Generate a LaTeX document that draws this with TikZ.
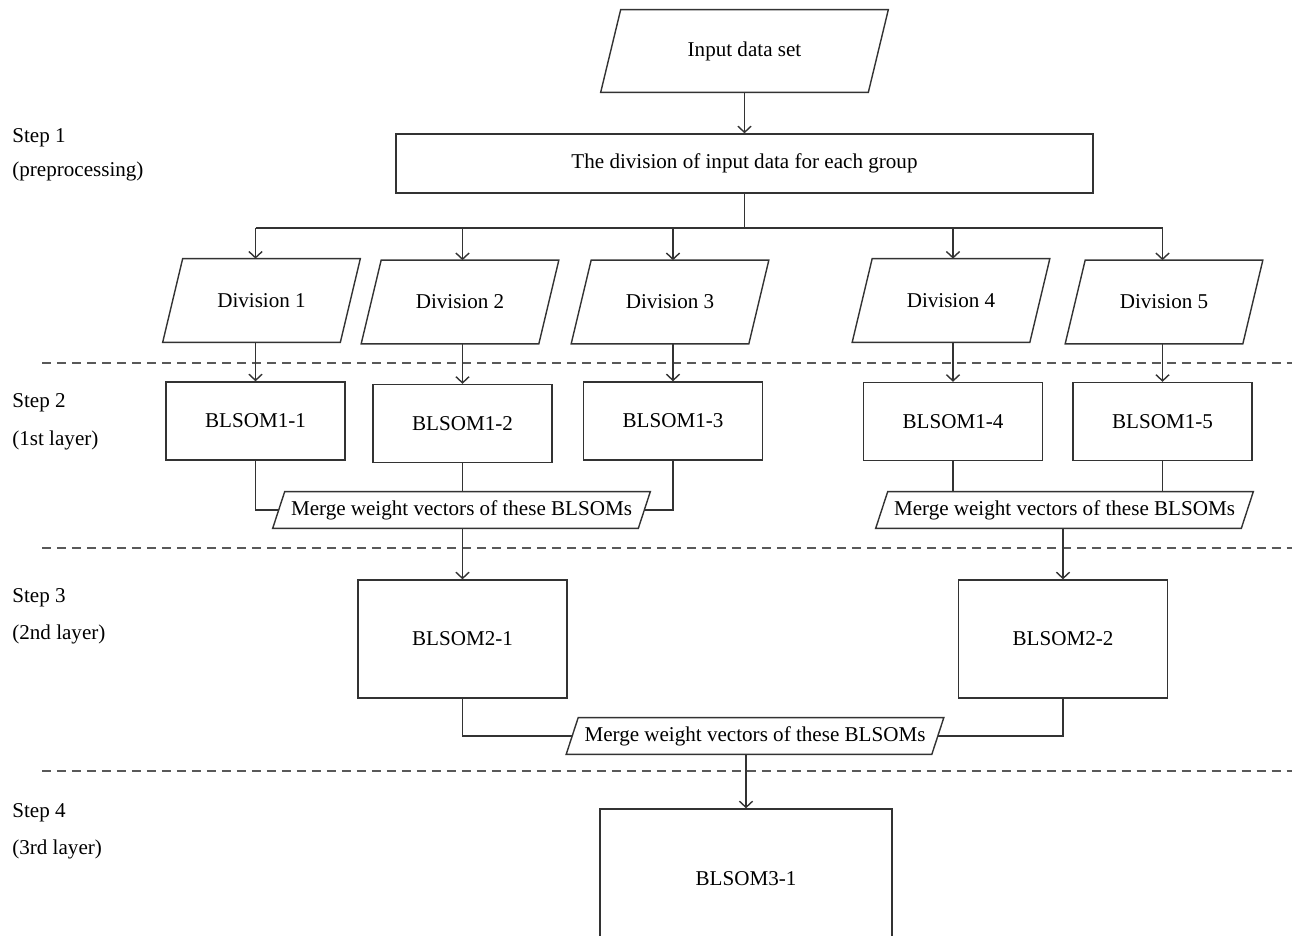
\documentclass[tikz,border=0pt]{standalone}
\usepackage{fontspec}
\setmainfont{Liberation Serif}
\usetikzlibrary{arrows.meta}

\tikzset{
  procbox/.style={rectangle, draw=black!80, fill=white, line width=0.8pt,
    inner sep=0pt, font=\fontsize{12}{14}\selectfont},
  databox/.style={rectangle, inner sep=0pt, font=\fontsize{12}{14}\selectfont},
  link/.style={draw=black!80, line width=0.8pt},
  arr/.style={link, ->},
  layerline/.style={draw=black!65, line width=0.8pt, dash pattern=on 0.18cm off 0.12cm},
  steplabel/.style={anchor=base west, inner sep=0pt, font=\fontsize{12}{14}\selectfont}
}
% slanted frame round a databox node: #1 node, #2 half of the slant
\newcommand\slantframe[2]{%
  \draw[link] ([xshift=#2]#1.north west) -- ([xshift=#2]#1.north east)
    -- ([xshift=-#2]#1.south east) -- ([xshift=-#2]#1.south west) -- cycle;}

\begin{document}
\begin{tikzpicture}[x=0.02cm, y=-0.02cm, >={Straight Barb[length=3.5pt,width=7.5pt]}]
  \useasboundingbox (0,0) rectangle (1292,936);

  % layer separators
  \foreach \y in {363,548,771}
    \draw[layerline] (42,\y) -- (1292,\y);

  % step labels on the left
  \foreach \y/\txt [count=\i] in {143/Step 1, 176/(preprocessing), 407/Step 2, 445/(1st layer),
                                  602/Step 3, 639/(2nd layer), 817/Step 4, 854/(3rd layer)}
    \node[steplabel] (lab\i) at (12,\y) {\txt};

  % step 1
  \node[databox, minimum width=5.34cm, minimum height=1.64cm] (input) at (744.5,51) {Input data set};
  \slantframe{input}{0.2cm}
  \node[procbox, minimum width=13.94cm, minimum height=1.18cm] (divide) at (744.5,163.5)
    {The division of input data for each group};
  \foreach \name/\x/\y/\txt in {div1/261.5/300.5/Division 1, div2/460/302/Division 2,
                                div3/670/302/Division 3, div4/951/300.5/Division 4,
                                div5/1164/302/Division 5}{
    \node[databox, minimum width=3.54cm, minimum height=1.66cm] (\name) at (\x,\y) {\txt};
    \slantframe{\name}{0.2cm}
  }

  % step 2
  \foreach \name/\x/\y/\txt in {b11/255.5/421/BLSOM1-1, b12/462.5/423.5/BLSOM1-2,
                                b13/673/421/BLSOM1-3, b14/953/421.5/BLSOM1-4,
                                b15/1162.5/421.5/BLSOM1-5}
    \node[procbox, minimum width=3.58cm, minimum height=1.56cm] (\name) at (\x,\y) {\txt};
  \foreach \name/\x/\y in {m1/461.5/510, m2/1064.5/510}{
    \node[databox, minimum width=7.3cm, minimum height=0.72cm] (\name) at (\x,\y)
      {Merge weight vectors of these BLSOMs};
    \slantframe{\name}{0.12cm}
  }

  % step 3
  \node[procbox, minimum width=4.18cm, minimum height=2.36cm] (b21) at (462.5,639) {BLSOM2-1};
  \node[procbox, minimum width=4.18cm, minimum height=2.36cm] (b22) at (1063,639) {BLSOM2-2};
  \node[databox, minimum width=7.3cm, minimum height=0.72cm] (m3) at (755,736)
    {Merge weight vectors of these BLSOMs};
  \slantframe{m3}{0.12cm}

  % step 4
  \node[procbox, minimum width=5.84cm, minimum height=2.8cm] (b31) at (746,879) {BLSOM3-1};

  % connectors
  \draw[arr] (input) -- (divide);
  \coordinate (bus) at (744.5,228);
  \draw[link] (divide.south) -- (bus);
  \draw[link] (b11.north |- bus) -- (b15.north |- bus);
  \foreach \d/\b in {div1/b11, div2/b12, div3/b13, div4/b14, div5/b15}{
    \draw[arr] (\b.north |- bus) -- (\b.north |- \d.north);
    \draw[arr] (\b.north |- \d.south) -- (\b.north);
  }
  \draw[link] (b11.south) |- (m1.west);
  \draw[link] (b12.south) -- (b12.south |- m1.north);
  \draw[link] (b13.south) |- (m1.east);
  \draw[link] (b14.south) -- (b14.south |- m2.north);
  \draw[link] (b15.south) -- (b15.south |- m2.north);
  \draw[arr] (m1.south -| b21.north) -- (b21.north);
  \draw[arr] (m2.south -| b22.north) -- (b22.north);
  \draw[link] (b21.south) |- (m3.west);
  \draw[link] (b22.south) |- (m3.east);
  \draw[arr] (b31.north |- m3.south) -- (b31.north);

\end{tikzpicture}
\end{document}
